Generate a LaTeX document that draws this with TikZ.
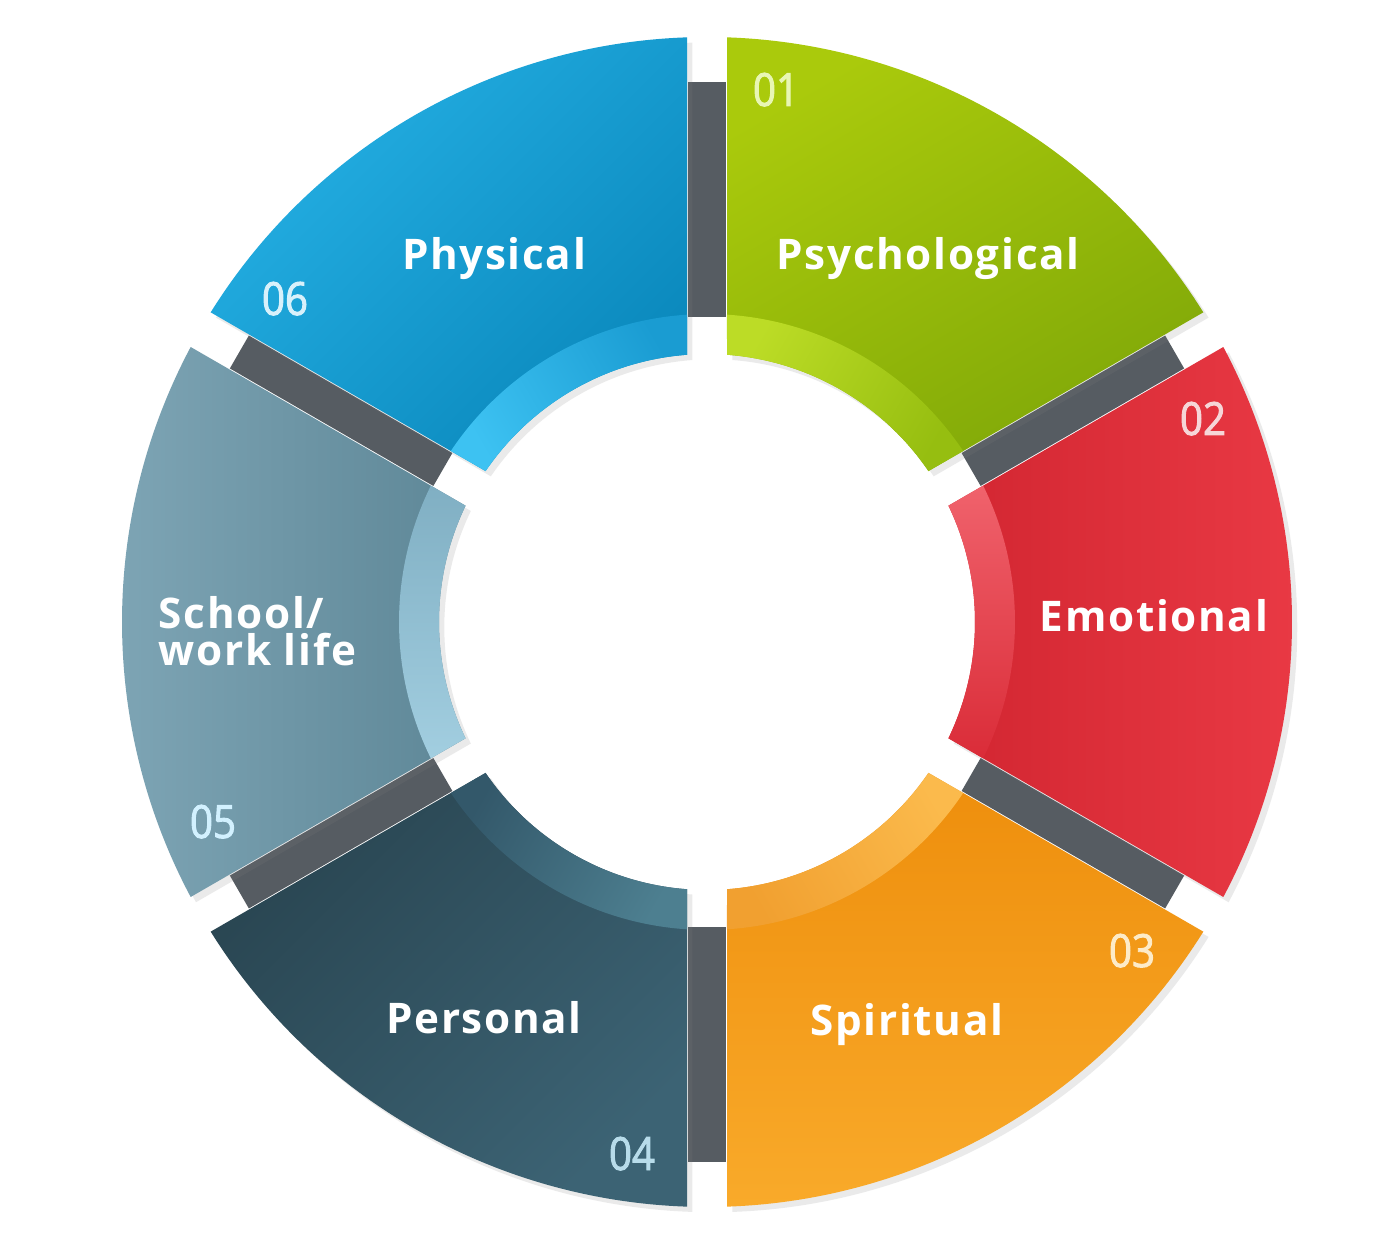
\documentclass[tikz,border=0pt]{standalone}
\usepackage{fontspec}
\setmainfont{Open Sans}
\newfontfamily\labelfont[LetterSpace=4.0]{Open Sans}
\newfontfamily\numfont[FakeStretch=0.88, FakeBold=2]{Open Sans}
\usetikzlibrary{shadows}

% segment colours (light / dark)
\definecolor{physA}{HTML}{25B0E4}\definecolor{physB}{HTML}{0A88BC}
\definecolor{physBandA}{HTML}{3DC2F2}\definecolor{physBandB}{HTML}{1A9CD2}
\definecolor{psyA}{HTML}{AACA0C}\definecolor{psyB}{HTML}{80A808}
\definecolor{psyBandA}{HTML}{BCDC26}\definecolor{psyBandB}{HTML}{96BE10}
\definecolor{emoA}{HTML}{EA3A45}\definecolor{emoB}{HTML}{D22631}
\definecolor{emoBandA}{HTML}{F0626C}\definecolor{emoBandB}{HTML}{DA2C38}
\definecolor{spiA}{HTML}{F9AA2A}\definecolor{spiB}{HTML}{EE8E0C}
\definecolor{spiBandA}{HTML}{FBBA4C}\definecolor{spiBandB}{HTML}{F1A030}
\definecolor{perA}{HTML}{3C6374}\definecolor{perB}{HTML}{294551}
\definecolor{perBandA}{HTML}{4D7F90}\definecolor{perBandB}{HTML}{33586A}
\definecolor{schA}{HTML}{7FA6B6}\definecolor{schB}{HTML}{5E8797}
\definecolor{schBandA}{HTML}{A2CEE0}\definecolor{schBandB}{HTML}{80AFC3}
\definecolor{barcol}{HTML}{565C62}
% number colours
\definecolor{numPsy}{HTML}{E8F6B4}
\definecolor{numEmo}{HTML}{F6D6D8}
\definecolor{numSpi}{HTML}{FDEBC8}
\definecolor{numPer}{HTML}{B8DCEA}
\definecolor{numSch}{HTML}{D2F1FF}
\definecolor{numPhys}{HTML}{D8F1FB}

% angular offsets for the 20px half gap
\newcommand{\dout}{1.96}
\newcommand{\din}{4.28}
\newcommand{\dband}{3.72}
\newcommand{\ringseg}[2]{(#1-\dout:585) arc[start angle=#1-\dout, end angle=#2+\dout, radius=585]
  -- (#2+\din:268) arc[start angle=#2+\din, end angle=#1-\din, radius=268] -- cycle}
\newcommand{\ringband}[2]{(#1-\dband:308) arc[start angle=#1-\dband, end angle=#2+\dband, radius=308]
  -- (#2+\din:268) arc[start angle=#2+\din, end angle=#1-\din, radius=268] -- cycle}

\begin{document}
\begin{tikzpicture}[x=0.01cm, y=0.01cm,
    seg/.style={drop shadow={opacity=0.16, shadow xshift=1.5pt, shadow yshift=-1.5pt}},
    bar/.style={fill=barcol},
    label/.style={font=\labelfont\bfseries\fontsize{12pt}{10.5pt}\selectfont, text=white, inner sep=0pt},
    num/.style={font=\numfont\fontsize{13pt}{15pt}\selectfont, inner sep=0pt, anchor=base}]
    \useasboundingbox[fill=white] (0,0) rectangle (1400,1236);

    \begin{scope}[shift={(707,614)}]
        % grey connectors between the segments
        \foreach \a in {90,30,-30,-90,-150,150}
            \fill[bar, rotate=\a] (305,-19) rectangle (540,19);

        % the six segments
        \shade[seg, left color=psyA, right color=psyB, shading angle=30] \ringseg{90}{30};
        \shade[seg, left color=emoB, right color=emoA] \ringseg{30}{-30};
        \shade[seg, top color=spiB, bottom color=spiA] \ringseg{-30}{-90};
        \shade[seg, left color=perB, right color=perA, shading angle=45] \ringseg{-90}{-150};
        \shade[seg, left color=schA, right color=schB] \ringseg{210}{150};
        \shade[seg, left color=physA, right color=physB, shading angle=45] \ringseg{150}{90};

        % lighter inner bands
        \shade[left color=psyBandA, right color=psyBandB, shading angle=60] \ringband{90}{30};
        \shade[left color=emoBandA, right color=emoBandB, shading angle=0] \ringband{30}{-30};
        \shade[left color=spiBandA, right color=spiBandB, shading angle=-60] \ringband{-30}{-90};
        \shade[left color=perBandA, right color=perBandB, shading angle=-120] \ringband{-90}{-150};
        \shade[left color=schBandA, right color=schBandB, shading angle=180] \ringband{210}{150};
        \shade[left color=physBandA, right color=physBandB, shading angle=120] \ringband{150}{90};
    \end{scope}

    % labels
    \node[label, anchor=base] (psych) at (928,966) {Psychological};
    \node[label, anchor=base] (emot) at (1154,604) {Emotional};
    \node[label, anchor=base] (spirit) at (907,201) {Spiritual};
    \node[label, anchor=base] (person) at (484,203) {Personal};
    \node[label, anchor=west, align=left] (school) at (158,605) {School/\\work life};
    \node[label, anchor=base] (phys) at (494,966) {Physical};

    % numbers
    \node[num, text=numPsy] (n01) at (776,1130) {01};
    \node[num, text=numEmo] (n02) at (1203,801) {02};
    \node[num, text=numSpi] (n03) at (1132,269) {03};
    \node[num, text=numPer] (n04) at (632,66) {04};
    \node[num, text=numSch] (n05) at (213,398) {05};
    \node[num, text=numPhys] (n06) at (285,921) {06};
\end{tikzpicture}
\end{document}
